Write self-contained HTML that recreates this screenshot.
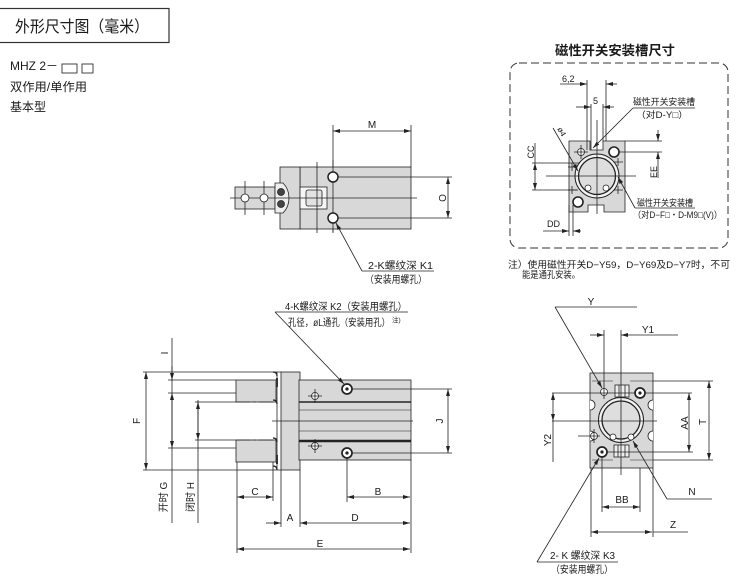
<!DOCTYPE html>
<html><head><meta charset="utf-8"><style>
html,body{margin:0;padding:0;background:#fff;width:750px;height:577px;overflow:hidden}
svg{display:block}
text{font-family:"Liberation Sans","Noto Sans CJK SC",sans-serif;fill:#1a1a1a}
</style></head><body>
<svg width="750" height="577" viewBox="0 0 750 577" xmlns="http://www.w3.org/2000/svg">
<defs>
<marker id="a" viewBox="0 0 7 4" refX="7" refY="2" markerWidth="7" markerHeight="4" markerUnits="userSpaceOnUse" orient="auto-start-reverse"><path d="M0,0L7,2L0,4z" fill="#222"/></marker>
</defs>
<rect width="750" height="577" fill="#fff"/>

<!-- ===== Title ===== -->
<rect x="-2" y="8.5" width="171" height="34" fill="none" stroke="#333" stroke-width="1.2"/>
<text x="15" y="32" font-size="16" textLength="134" lengthAdjust="spacingAndGlyphs">外形尺寸图（毫米）</text>
<text x="10" y="70" font-size="12">MHZ 2－</text>
<rect x="62" y="64" width="15" height="9" fill="none" stroke="#333" stroke-width="0.9"/>
<rect x="82" y="64" width="11" height="9" fill="none" stroke="#333" stroke-width="0.9"/>
<text x="10" y="91" font-size="12" textLength="77" lengthAdjust="spacingAndGlyphs">双作用/单作用</text>
<text x="10" y="111" font-size="12">基本型</text>

<!-- ===== Top middle drawing ===== -->
<g stroke="#222" stroke-width="0.8" fill="none">
 <line x1="333" y1="125" x2="333" y2="232"/>
 <line x1="411" y1="125" x2="411" y2="167"/>
 <line x1="333" y1="131" x2="411" y2="131" marker-start="url(#a)" marker-end="url(#a)"/>
 <rect x="300" y="167" width="111" height="62" fill="#d8d8d8"/>
 <rect x="280" y="167" width="20" height="62" fill="#d8d8d8"/>
 <rect x="300" y="187" width="27" height="22" fill="#f6f6f6"/>
 <rect x="306" y="190" width="16" height="16" rx="2" fill="#e2e2e2"/>
 <line x1="317" y1="162" x2="317" y2="233"/>
 <line x1="333" y1="160" x2="333" y2="233"/>
 <rect x="235" y="187" width="40" height="22" fill="#d8d8d8"/>
 <path d="M275,183 h8 q6,6 6,15 q0,9 -6,15 h-8z" fill="#eee"/>
 <circle cx="281" cy="192" r="3.5" fill="#444"/>
 <circle cx="281" cy="204" r="3.5" fill="#444"/>
 <line x1="230" y1="198" x2="417" y2="198"/>
 <line x1="245" y1="181" x2="245" y2="215"/>
 <line x1="264" y1="181" x2="264" y2="215"/>
 <circle cx="245" cy="198" r="4" fill="#fff"/>
 <circle cx="264" cy="198" r="4" fill="#fff"/>
 <circle cx="333" cy="177" r="5" fill="#fff" stroke-width="1.5"/>
 <circle cx="333" cy="218" r="5" fill="#fff" stroke-width="1.5"/>
 <line x1="338" y1="177" x2="452" y2="177"/>
 <line x1="338" y1="218" x2="452" y2="218"/>
 <line x1="448" y1="177" x2="448" y2="218" marker-start="url(#a)" marker-end="url(#a)"/>
 <line x1="362" y1="271" x2="336" y2="223" marker-end="url(#a)"/>
 <line x1="362" y1="271" x2="434" y2="271"/>
</g>
<text x="372" y="128" font-size="10" text-anchor="middle">M</text>
<text transform="translate(446,198) rotate(-90)" font-size="10" text-anchor="middle">O</text>
<text x="368" y="269" font-size="10" textLength="65" lengthAdjust="spacingAndGlyphs">2-K螺纹深 K1</text>
<text x="365" y="283" font-size="10" textLength="62" lengthAdjust="spacingAndGlyphs">（安装用螺孔）</text>

<!-- ===== Top right box ===== -->
<text x="615" y="55" font-size="13" font-weight="bold" text-anchor="middle" textLength="120" lengthAdjust="spacingAndGlyphs">磁性开关安装槽尺寸</text>
<rect x="510" y="63" width="218" height="185" rx="9" fill="none" stroke="#333" stroke-dasharray="8,4" stroke-width="1"/>
<g stroke="#222" stroke-width="0.8" fill="none">
 <path d="M569,141 H590 V150 H603 V141 H625 V212 H604 V205 H588 V212 H569 Z" fill="#d8d8d8"/>
 <circle cx="597" cy="176" r="22" fill="#f2f2f2" stroke-width="1"/>
 <circle cx="597" cy="176" r="18.5" fill="#dedede" stroke-width="1.3"/>
 <line x1="546" y1="176" x2="636" y2="176"/>
 <line x1="597" y1="120" x2="597" y2="214"/>
 <circle cx="581" cy="152" r="3.5" fill="#fff"/>
 <path d="M574,152h14M581,145v14"/>
 <circle cx="614" cy="152" r="5" fill="#fff" stroke-width="1.6"/>
 <circle cx="578" cy="202" r="5" fill="#fff" stroke-width="1.6"/>
 <circle cx="588" cy="188" r="3" fill="#fff"/>
 <circle cx="606" cy="188" r="3" fill="#fff"/>
 <path d="M614,162h9M618,158v8M614,190h9M618,186v8M568,167h9M572,163v8M568,190h9M572,186v8"/>
 <line x1="587" y1="80" x2="587" y2="150"/>
 <line x1="591" y1="104" x2="591" y2="150"/>
 <line x1="603" y1="104" x2="603" y2="141"/>
 <line x1="606" y1="80" x2="606" y2="141"/>
 <line x1="560" y1="84" x2="587" y2="84" marker-end="url(#a)"/>
 <line x1="617" y1="84" x2="606" y2="84" marker-end="url(#a)"/>
 <line x1="576" y1="107" x2="591" y2="107" marker-end="url(#a)"/>
 <line x1="614" y1="107" x2="603" y2="107" marker-end="url(#a)"/>
 <line x1="553" y1="128" x2="578" y2="171" marker-end="url(#a)"/>
 <line x1="532" y1="163" x2="580" y2="163"/>
 <line x1="532" y1="190" x2="578" y2="190"/>
 <line x1="535" y1="143" x2="535" y2="163"/>
 <line x1="535" y1="163" x2="535" y2="190" marker-start="url(#a)" marker-end="url(#a)"/>
 <line x1="625" y1="141" x2="662" y2="141"/>
 <line x1="619" y1="152" x2="662" y2="152"/>
 <line x1="658" y1="130" x2="658" y2="141" marker-end="url(#a)"/>
 <line x1="658" y1="178" x2="658" y2="152" marker-end="url(#a)"/>
 <line x1="569" y1="205" x2="569" y2="236"/>
 <line x1="573" y1="205" x2="573" y2="236"/>
 <line x1="543" y1="231" x2="569" y2="231" marker-end="url(#a)"/>
 <line x1="581" y1="231" x2="573" y2="231" marker-end="url(#a)"/>
 <line x1="633" y1="108" x2="695" y2="108"/>
 <line x1="633" y1="108" x2="593" y2="148" marker-end="url(#a)"/>
 <line x1="635" y1="208" x2="695" y2="208"/>
 <line x1="635" y1="208" x2="618" y2="177" marker-end="url(#a)"/>
</g>
<text x="562" y="82" font-size="9">6,2</text>
<text x="593" y="104" font-size="9">5</text>
<text transform="translate(557,129) rotate(60)" font-size="8">ø4</text>
<text transform="translate(534,152) rotate(-90)" font-size="9" text-anchor="middle">CC</text>
<text transform="translate(657,172) rotate(-90)" font-size="9" text-anchor="middle">EE</text>
<text x="547" y="227" font-size="9">DD</text>
<text x="633" y="105" font-size="9" textLength="62" lengthAdjust="spacingAndGlyphs">磁性开关安装槽</text>
<text x="636" y="118" font-size="9" textLength="52" lengthAdjust="spacingAndGlyphs">（对D-Y□）</text>
<text x="637" y="206" font-size="9" textLength="56" lengthAdjust="spacingAndGlyphs">磁性开关安装槽</text>
<text x="633" y="218" font-size="9" textLength="89" lengthAdjust="spacingAndGlyphs">（对D−F□・D-M9□(V)）</text>
<text x="508" y="268" font-size="9.5" textLength="222" lengthAdjust="spacingAndGlyphs">注）使用磁性开关D−Y59，D−Y69及D−Y7时，不可</text>
<text x="522" y="278" font-size="9.5" textLength="58" lengthAdjust="spacingAndGlyphs">能是通孔安装。</text>

<!-- ===== Bottom left drawing ===== -->
<g stroke="#222" stroke-width="0.8" fill="none">
 <line x1="143" y1="372" x2="281" y2="372"/>
 <line x1="143" y1="470" x2="281" y2="470"/>
 <line x1="168" y1="380" x2="236" y2="380"/>
 <line x1="168" y1="393" x2="236" y2="393"/>
 <line x1="195" y1="402" x2="236" y2="402"/>
 <line x1="195" y1="440" x2="236" y2="440"/>
 <line x1="168" y1="448" x2="236" y2="448"/>
 <rect x="236" y="380" width="40" height="22" fill="#d8d8d8"/>
 <rect x="236" y="440" width="40" height="22" fill="#d8d8d8"/>
 <line x1="236" y1="402" x2="276" y2="402" stroke-dasharray="14,3,3,3"/>
 <line x1="236" y1="440" x2="276" y2="440" stroke-dasharray="14,3,3,3"/>
 <rect x="281" y="372" width="19" height="98" fill="#d8d8d8"/>
 <line x1="277" y1="372" x2="277" y2="470"/>
 <path d="M273,372 q4,0 4,4 M273,400 q4,0 4,4 M273,438 q4,0 4,4 M273,466 q4,0 4,4" stroke-width="1.3"/>
 <rect x="276" y="378" width="2" height="9" fill="#333" stroke="none"/>
 <rect x="276" y="455" width="2" height="9" fill="#333" stroke="none"/>
 <rect x="299" y="380" width="112" height="80" fill="#d8d8d8"/>
 <line x1="299" y1="402" x2="411" y2="402" stroke-width="1.4"/>
 <line x1="299" y1="410" x2="411" y2="410" stroke-width="0.6"/>
 <line x1="299" y1="431" x2="411" y2="431" stroke-width="0.6"/>
 <line x1="299" y1="441" x2="411" y2="441" stroke-width="2.6"/>
 <line x1="272" y1="421" x2="413" y2="421"/>
 <circle cx="315" cy="396" r="3.5" fill="#fff"/><path d="M308,396h14M315,389v14"/>
 <circle cx="315" cy="446" r="3.5" fill="#fff"/><path d="M308,446h14M315,439v14"/>
 <circle cx="347" cy="389" r="5" fill="#fff" stroke-width="1.7"/><circle cx="347" cy="389" r="1.2" fill="#222"/>
 <circle cx="347" cy="453" r="5" fill="#fff" stroke-width="1.7"/><circle cx="347" cy="453" r="1.2" fill="#222"/>
 <line x1="352" y1="389" x2="452" y2="389"/>
 <line x1="352" y1="453" x2="452" y2="453"/>
 <line x1="448" y1="389" x2="448" y2="453" marker-start="url(#a)" marker-end="url(#a)"/>
 <line x1="275" y1="312" x2="408" y2="312"/>
 <line x1="275" y1="312" x2="344" y2="384" marker-end="url(#a)"/>
 <line x1="146" y1="372" x2="146" y2="470" marker-start="url(#a)" marker-end="url(#a)"/>
 <line x1="172" y1="338" x2="172" y2="523"/>
 <line x1="172" y1="366" x2="172" y2="380" marker-end="url(#a)"/>
 <line x1="172" y1="420" x2="172" y2="393" marker-end="url(#a)"/>
 <line x1="172" y1="420" x2="172" y2="448" marker-end="url(#a)"/>
 <line x1="198" y1="400" x2="198" y2="523"/>
 <line x1="198" y1="421" x2="198" y2="402" marker-end="url(#a)"/>
 <line x1="198" y1="421" x2="198" y2="440" marker-end="url(#a)"/>
 <line x1="237" y1="462" x2="237" y2="553"/>
 <line x1="273" y1="462" x2="273" y2="501"/>
 <line x1="281" y1="470" x2="281" y2="527"/>
 <line x1="300" y1="470" x2="300" y2="527"/>
 <line x1="347" y1="458" x2="347" y2="502"/>
 <line x1="411" y1="460" x2="411" y2="553"/>
 <line x1="237" y1="497" x2="273" y2="497" marker-start="url(#a)" marker-end="url(#a)"/>
 <line x1="347" y1="497" x2="410" y2="497" marker-start="url(#a)" marker-end="url(#a)"/>
 <line x1="266" y1="523" x2="281" y2="523" marker-end="url(#a)"/>
 <line x1="300" y1="523" x2="410" y2="523" marker-start="url(#a)" marker-end="url(#a)"/>
 <line x1="237" y1="549" x2="410" y2="549" marker-start="url(#a)" marker-end="url(#a)"/>
</g>
<text x="285" y="310" font-size="10" textLength="122" lengthAdjust="spacingAndGlyphs">4-K螺纹深 K2（安装用螺孔）</text>
<text x="288" y="326" font-size="10" textLength="102" lengthAdjust="spacingAndGlyphs">孔径，øL通孔（安装用孔）</text>
<text x="392" y="322" font-size="6.5">注)</text>
<text transform="translate(140,421) rotate(-90)" font-size="10" text-anchor="middle">F</text>
<text transform="translate(168,353) rotate(-90)" font-size="10" text-anchor="middle">I</text>
<text transform="translate(443,421) rotate(-90)" font-size="10" text-anchor="middle">J</text>
<text transform="translate(167,497) rotate(-90)" font-size="10" text-anchor="middle">开时 G</text>
<text transform="translate(194,497) rotate(-90)" font-size="10" text-anchor="middle">闭时 H</text>
<text x="255" y="495" font-size="10" text-anchor="middle">C</text>
<text x="378" y="495" font-size="10" text-anchor="middle">B</text>
<text x="290" y="521" font-size="10" text-anchor="middle">A</text>
<text x="355" y="521" font-size="10" text-anchor="middle">D</text>
<text x="320" y="547" font-size="10" text-anchor="middle">E</text>

<!-- ===== Bottom right drawing ===== -->
<g stroke="#222" stroke-width="0.8" fill="none">
 <rect x="590" y="373" width="63" height="95" fill="#d8d8d8"/>
 <path d="M592,381H613M630,381H653M592,460H613M630,460H653" stroke-width="0.6"/>
 <path d="M590,400a5,5 0 0 1 0,10M590,431a5,5 0 0 1 0,10M653,400a5,5 0 0 0 0,10M653,431a5,5 0 0 0 0,10" fill="#fff"/>
 <circle cx="621" cy="420" r="22.5" fill="#f3f3f3" stroke-width="1"/>
 <circle cx="621" cy="420" r="19" fill="#dedede" stroke-width="1.3"/>
 <rect x="615" y="385" width="14" height="12" fill="#eee"/>
 <path d="M619,385v12M625,385v12"/>
 <rect x="614" y="445" width="15" height="12" fill="#eee"/>
 <path d="M618,445v12M625,445v12"/>
 <line x1="552" y1="421" x2="657" y2="421"/>
 <line x1="621" y1="330" x2="621" y2="475"/>
 <circle cx="604" cy="392" r="3.5" fill="#fff"/>
 <line x1="604" y1="330" x2="604" y2="399"/>
 <circle cx="640" cy="393" r="5" fill="#fff" stroke-width="1.7"/><circle cx="640" cy="393" r="1.2" fill="#222"/>
 <circle cx="602" cy="452" r="5" fill="#fff" stroke-width="1.7"/><circle cx="602" cy="452" r="1.2" fill="#222"/>
 <circle cx="613" cy="437" r="3" fill="#fff"/>
 <circle cx="631" cy="437" r="3" fill="#fff"/>
 <circle cx="594" cy="436" r="3.5" fill="#fff"/>
 <path d="M578,436h22M594,429v14"/>
 <line x1="555" y1="307" x2="637" y2="307"/>
 <line x1="555" y1="307" x2="602" y2="388" marker-end="url(#a)"/>
 <line x1="590" y1="335" x2="604" y2="335" marker-end="url(#a)"/>
 <line x1="678" y1="335" x2="621" y2="335" marker-end="url(#a)"/>
 <line x1="552" y1="393" x2="636" y2="393"/>
 <line x1="553" y1="393" x2="553" y2="421" marker-start="url(#a)" marker-end="url(#a)"/>
 <line x1="553" y1="421" x2="553" y2="462"/>
 <line x1="645" y1="393" x2="692" y2="393"/>
 <line x1="607" y1="452" x2="693" y2="452"/>
 <line x1="689" y1="393" x2="689" y2="452" marker-start="url(#a)" marker-end="url(#a)"/>
 <line x1="653" y1="381" x2="713" y2="381"/>
 <line x1="653" y1="460" x2="713" y2="460"/>
 <line x1="709" y1="381" x2="709" y2="460" marker-start="url(#a)" marker-end="url(#a)"/>
 <line x1="602" y1="457" x2="602" y2="512"/>
 <line x1="640" y1="468" x2="640" y2="512"/>
 <line x1="602" y1="507" x2="640" y2="507" marker-start="url(#a)" marker-end="url(#a)"/>
 <line x1="591" y1="468" x2="591" y2="537"/>
 <line x1="653" y1="468" x2="653" y2="537"/>
 <line x1="591" y1="532" x2="652" y2="532" marker-start="url(#a)" marker-end="url(#a)"/>
 <line x1="653" y1="532" x2="688" y2="532"/>
 <line x1="667" y1="499" x2="633" y2="441" marker-end="url(#a)"/>
 <line x1="667" y1="499" x2="712" y2="499"/>
 <line x1="537" y1="562" x2="618" y2="562"/>
 <line x1="537" y1="562" x2="599" y2="458" marker-end="url(#a)"/>
</g>
<text x="591" y="305" font-size="10" text-anchor="middle">Y</text>
<text x="648" y="333" font-size="10" text-anchor="middle">Y1</text>
<text transform="translate(551,440) rotate(-90)" font-size="10" text-anchor="middle">Y2</text>
<text transform="translate(688,423) rotate(-90)" font-size="10" text-anchor="middle">AA</text>
<text transform="translate(706,422) rotate(-90)" font-size="10" text-anchor="middle">T</text>
<text x="622" y="503" font-size="10" text-anchor="middle">BB</text>
<text x="673" y="528" font-size="10" text-anchor="middle">Z</text>
<text x="692" y="495" font-size="10" text-anchor="middle">N</text>
<text x="550" y="559" font-size="10" textLength="65" lengthAdjust="spacingAndGlyphs">2- K 螺纹深 K3</text>
<text x="551" y="573" font-size="10" textLength="62" lengthAdjust="spacingAndGlyphs">（安装用螺孔）</text>
</svg>
</body></html>
